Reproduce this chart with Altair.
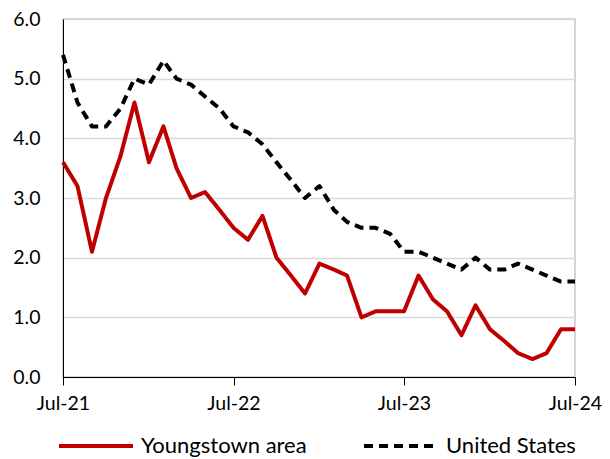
import altair as alt
import pandas as pd

months = pd.date_range("2021-07-01", "2024-07-01", freq="MS")

youngstown = [3.6, 3.2, 2.1, 3.0, 3.7, 4.6, 3.6, 4.2, 3.5, 3.0, 3.1, 2.8,
              2.5, 2.3, 2.7, 2.0, 1.7, 1.4, 1.9, 1.8, 1.7, 1.0, 1.1, 1.1,
              1.1, 1.7, 1.3, 1.1, 0.7, 1.2, 0.8, 0.6, 0.4, 0.3, 0.4, 0.8, 0.8]
united_states = [5.4, 4.6, 4.2, 4.2, 4.5, 5.0, 4.9, 5.3, 5.0, 4.9, 4.7, 4.5,
                 4.2, 4.1, 3.9, 3.6, 3.3, 3.0, 3.2, 2.8, 2.6, 2.5, 2.5, 2.4,
                 2.1, 2.1, 2.0, 1.9, 1.8, 2.0, 1.8, 1.8, 1.9, 1.8, 1.7, 1.6, 1.6]

series_names = ["Youngstown area", "United States"]
tick_years = [2021, 2022, 2023, 2024]

df = pd.concat([
    pd.DataFrame({"date": months, "value": youngstown, "series": series_names[0]}),
    pd.DataFrame({"date": months, "value": united_states, "series": series_names[1]}),
])

FONT = "Lato"

legend_cfg = dict(title=None, orient="none", legendX=-6, legendY=388,
                  direction="horizontal", symbolType="stroke",
                  symbolSize=5476, symbolStrokeWidth=4,
                  labelFontSize=22, labelFont=FONT, labelColor="black",
                  labelLimit=400, labelOffset=6, columnPadding=49)

chart = alt.Chart(df).mark_line(strokeWidth=4, strokeJoin="round", strokeCap="butt").encode(
    x=alt.X("date:T",
            scale=alt.Scale(domain=["2021-07-01", "2024-07-01"]),
            axis=alt.Axis(values=[alt.DateTime(year=y, month=7, date=1) for y in tick_years],
                          format="%b-%y", title=None, grid=False,
                          domainColor="black", tickColor="black", tickSize=8,
                          labelFlush=False, labelOverlap=False,
                          labelPadding=9, labelFontSize=19.5, labelFont=FONT,
                          labelColor="black")),
    y=alt.Y("value:Q",
            scale=alt.Scale(domain=[0, 6], nice=False),
            axis=alt.Axis(values=[0, 1, 2, 3, 4, 5, 6], format=".1f", title=None,
                          grid=True, gridColor="#d9d9d9", gridWidth=1.5,
                          domainColor="black", ticks=False, labelPadding=23,
                          labelFontSize=19.5, labelFont=FONT, labelColor="black")),
    color=alt.Color("series:N",
                    scale=alt.Scale(domain=series_names, range=["#C00000", "#000000"]),
                    legend=alt.Legend(**legend_cfg)),
    strokeDash=alt.StrokeDash("series:N",
                              scale=alt.Scale(domain=series_names, range=[[1, 0], [9, 6]]),
                              legend=alt.Legend(**legend_cfg)),
).properties(
    width=512, height=358,
    autosize=alt.AutoSizeParams(type="none"),
    padding={"left": 55, "top": 11, "right": 27, "bottom": 82},
).configure_view(stroke="#c8c8c8", strokeWidth=1.5)

chart.save("out.html", embed_options={"renderer": "svg", "actions": False})
